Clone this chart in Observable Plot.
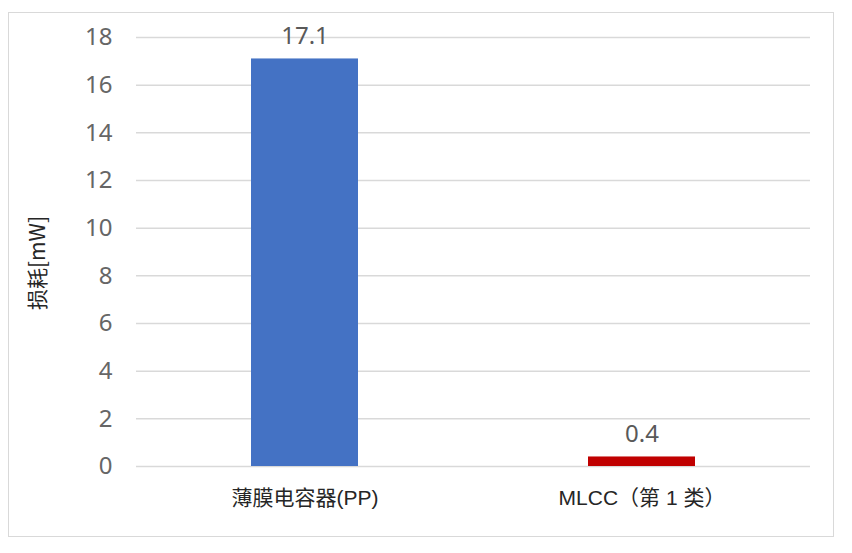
<!DOCTYPE html>
<html>
<head>
<meta charset="utf-8">
<script src="https://cdn.jsdelivr.net/npm/d3@7"></script>
<script src="https://cdn.jsdelivr.net/npm/@observablehq/plot@0.6"></script>
<style>
  html, body { margin: 0; padding: 0; background: #fff; }
  #wrap { position: relative; width: 852px; height: 553px; }
  #frame { position: absolute; left: 8px; top: 12px; width: 826px; height: 525px; border: 1.5px solid #d9d9d9; box-sizing: border-box; }
  #chart { position: absolute; left: 0; top: 0; }
</style>
</head>
<body>
<div id="wrap"><div id="frame"></div><div id="chart"></div></div>
<script>
const categories = ["薄膜电容器(PP)", "MLCC（第 1 类）"];
const values = [17.1, 0.4];
const valueLabels = ["17.1", "0.4"];
const yTicks = [0, 2, 4, 6, 8, 10, 12, 14, 16, 18];
const yLabel = "损耗[mW]";
const barColors = ["#4472C4", "#C00000"];

const data = categories.map((c, i) => ({category: c, value: values[i], label: valueLabels[i]}));

const chart = Plot.plot({
  width: 852,
  height: 553,
  marginLeft: 136,
  marginRight: 42,
  marginTop: 37,
  marginBottom: 87,
  style: {background: "transparent", overflow: "visible"},
  x: {domain: categories, paddingInner: 0.683, paddingOuter: 0.34, label: null},
  y: {domain: [0, 18], label: null},
  color: {domain: categories, range: barColors},
  marks: [
    Plot.ruleY(yTicks, {stroke: "#d9d9d9", strokeWidth: 1.5}),
    Plot.axisY({ticks: yTicks, tickSize: 0, tickPadding: 24, fontSize: 24, color: "#666666",
      fontFamily: "'Noto Sans', 'Open Sans', sans-serif", label: null}),
    Plot.axisX({tickSize: 0, tickPadding: 24, fontSize: 21, color: "#262626",
      fontFamily: "'Liberation Sans', 'Noto Sans CJK SC', sans-serif", label: null}),
    Plot.barY(data, {x: "category", y: "value", fill: "category"}),
    Plot.text(data, {x: "category", y: "value", text: "label", dy: -23, lineAnchor: "middle",
      fontSize: 24, fill: "#595959", fontFamily: "'Noto Sans', 'Open Sans', sans-serif"}),
    Plot.text([yLabel], {frameAnchor: "left", textAnchor: "middle", dx: -98, dy: 11, rotate: -90, fontSize: 21, fill: "#262626",
      fontFamily: "'Noto Sans CJK SC', 'Liberation Sans', sans-serif"})
  ]
});
document.getElementById("chart").appendChild(chart);
</script>
</body>
</html>
